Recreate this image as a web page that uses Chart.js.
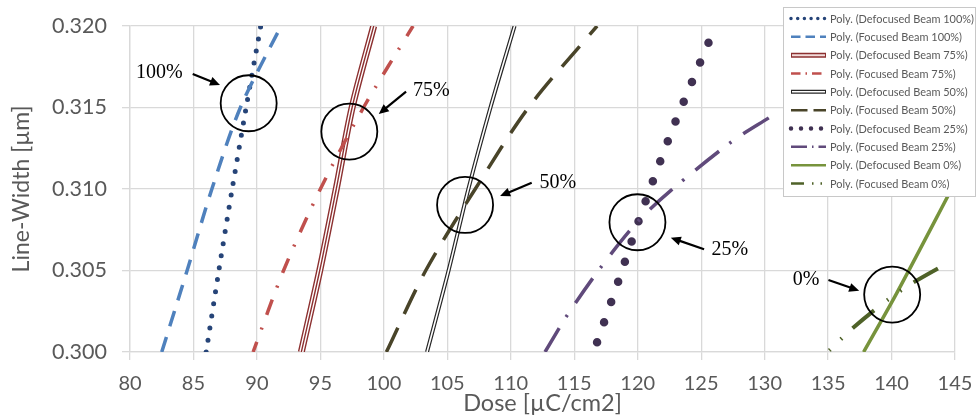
<!DOCTYPE html>
<html>
<head>
<meta charset="utf-8">
<script src="https://cdn.jsdelivr.net/npm/chart.js@4.4.1/dist/chart.umd.min.js"></script>
<style>
  html, body { margin: 0; padding: 0; background: #fff; }
  canvas { display: block; }
</style>
</head>
<body>
<canvas id="chart" width="977" height="420"></canvas>
<script>
// axis ranges
const doseTicks = [80, 85, 90, 95, 100, 105, 110, 115, 120, 125, 130, 135, 140, 145];
const widthTicks = [0.300, 0.305, 0.310, 0.315, 0.320];

// polynomial trendlines (dose in uC/cm2, line-width in um)
const def100Dose = [86.0, 87.0, 88.05, 89.15, 90.3];
const def100Width = [0.300, 0.305, 0.310, 0.315, 0.320];
const foc100Dose = [82.5, 84.5, 86.45, 88.7, 91.9];
const foc100Width = [0.300, 0.305, 0.310, 0.315, 0.320];
const def75Dose = [93.5, 94.95, 96.25, 97.5, 99.2];
const def75Width = [0.300, 0.305, 0.310, 0.315, 0.320];
const foc75Dose = [89.7, 92.1, 95.0, 98.4, 102.3];
const foc75Width = [0.300, 0.305, 0.310, 0.315, 0.320];
const def50Dose = [103.4, 105.1, 106.66, 108.4, 110.3];
const def50Width = [0.300, 0.305, 0.310, 0.315, 0.320];
const foc50Dose = [100.2, 103.3, 107.2, 111.4, 116.8];
const foc50Width = [0.300, 0.305, 0.310, 0.315, 0.320];
const def25Dose = [116.8, 118.5, 120.1, 122.45, 124.4, 125.7];
const def25Width = [0.3006, 0.3044, 0.3081, 0.3131, 0.3168, 0.3192];
const foc25Dose = [112.7, 114.4, 117.1, 120.0, 122.6, 127.4, 130.4];
const foc25Width = [0.300, 0.3022, 0.3052, 0.3080, 0.3099, 0.3129, 0.3144];
const def0Dose = [137.8, 140.4, 145.0];
const def0Width = [0.300, 0.3036, 0.3104];
const foc0Dose = [135.1, 137.0, 139.7, 141.8, 144.75];
const foc0Width = [0.3001, 0.3015, 0.3032, 0.3043, 0.3056];

// circled crossing points with their labels and arrows (data units)
const calloutText = ['100%', '75%', '50%', '25%', '0%'];
const circleDose = [89.35, 97.28, 106.4, 119.98, 140.05];
const circleWidth = [0.31526, 0.31352, 0.30902, 0.30796, 0.30352];
const textDose = [82.31, 103.75, 113.7, 127.26, 133.27];
const textWidth = [0.31718, 0.31607, 0.31045, 0.30636, 0.30452];
const arrowFromDose = [84.94, 101.75, 111.65, 125.23, 135.03];
const arrowFromWidth = [0.31706, 0.31597, 0.31039, 0.3063, 0.30442];
const arrowToDose = [87.09, 99.6, 109.16, 122.61, 137.45];
const arrowToWidth = [0.31638, 0.3146, 0.30957, 0.30701, 0.30376];

const series = [
  { label: 'Poly. (Defocused Beam 100%)', x: def100Dose, y: def100Width, color: '#264478', width: 5, dash: [0, 12.2], cap: 'round',
    legend: { width: 3.5, dash: [0, 6.7], cap: 'round' } },
  { label: 'Poly. (Focused Beam 100%)', x: foc100Dose, y: foc100Width, color: '#4F81BD', width: 3.5, dash: [16, 11],
    legend: { width: 2.5, dash: [9.5, 5] } },
  { label: 'Poly. (Defocused Beam 75%)', x: def75Dose, y: def75Width, color: '#8c3030', width: 7,
    layers: [{ color: '#ffffff', width: 4.2 }, { color: '#8c3030', width: 1.4 }],
    legend: { width: 5, layers: [{ color: '#f2dcdb', width: 2 }] } },
  { label: 'Poly. (Focused Beam 75%)', x: foc75Dose, y: foc75Width, color: '#C0504D', width: 3.5, dash: [16, 13, 2, 13.6], offset: 5,
    legend: { width: 2.5, dash: [9.5, 5, 1.5, 5] } },
  { label: 'Poly. (Defocused Beam 50%)', x: def50Dose, y: def50Width, color: '#262626', width: 4,
    layers: [{ color: '#ffffff', width: 1.6 }],
    legend: { width: 4, layers: [{ color: '#ffffff', width: 1.4 }] } },
  { label: 'Poly. (Focused Beam 50%)', x: foc50Dose, y: foc50Width, color: '#494429', width: 3.5, dash: [27, 15],
    legend: { width: 2.5, dash: [16.5, 6] } },
  { label: 'Poly. (Defocused Beam 25%)', x: def25Dose, y: def25Width, color: '#403152', width: 8.5, dash: [0, 21.3], cap: 'round',
    legend: { width: 4.5, dash: [0, 10], cap: 'round' } },
  { label: 'Poly. (Focused Beam 25%)', x: foc25Dose, y: foc25Width, color: '#604A7B', width: 3.5, dash: [30, 13, 2.5, 14.5], offset: 2.25,
    legend: { width: 2.5, dash: [16, 5, 1.5, 5] } },
  { label: 'Poly. (Defocused Beam 0%)', x: def0Dose, y: def0Width, color: '#77933C', width: 3.5,
    legend: { width: 2.5 } },
  { label: 'Poly. (Focused Beam 0%)', x: foc0Dose, y: foc0Width, color: '#4F6228', width: 4, dash: [1.5, 14.5, 1.5, 14.5, 28, 16.5],
    legend: { width: 2.5, dash: [13, 8, 1.5, 7, 1.5, 8] } }
];

const datasets = [];
series.forEach((s, i) => {
  const pts = s.x.map((v, k) => ({ x: v, y: s.y[k] }));
  const common = { data: pts, showLine: true, pointRadius: 0, pointHoverRadius: 0, tension: 0.3, fill: false, borderJoinStyle: 'round' };
  const base = (series.length - i) * 3;
  datasets.push(Object.assign({}, common, {
    label: s.label, borderColor: s.color, borderWidth: s.width,
    borderDash: s.dash || [], borderDashOffset: s.offset || 0, borderCapStyle: s.cap || 'butt', order: base
  }));
  (s.layers || []).forEach((l, j) => {
    datasets.push(Object.assign({}, common, {
      label: s.label + ' inner', borderColor: l.color, borderWidth: l.width, borderCapStyle: 'butt', order: base - 1 - j
    }));
  });
});

const callouts = {
  id: 'callouts',
  afterDatasetsDraw(chart) {
    const ctx = chart.ctx, xs = chart.scales.x, ys = chart.scales.y;
    ctx.save();
    ctx.strokeStyle = '#000';
    ctx.fillStyle = '#000';
    calloutText.forEach((t, i) => {
      const cx = xs.getPixelForValue(circleDose[i]), cy = ys.getPixelForValue(circleWidth[i]);
      ctx.lineWidth = 1.8;
      ctx.beginPath();
      ctx.arc(cx, cy, 28, 0, Math.PI * 2);
      ctx.stroke();

      const x1 = xs.getPixelForValue(arrowFromDose[i]), y1 = ys.getPixelForValue(arrowFromWidth[i]);
      const x2 = xs.getPixelForValue(arrowToDose[i]), y2 = ys.getPixelForValue(arrowToWidth[i]);
      const a = Math.atan2(y2 - y1, x2 - x1);
      const hl = 10, hw = 4.5;
      ctx.lineWidth = 2.2;
      ctx.beginPath();
      ctx.moveTo(x1, y1);
      ctx.lineTo(x2 - Math.cos(a) * hl * 0.8, y2 - Math.sin(a) * hl * 0.8);
      ctx.stroke();
      ctx.beginPath();
      ctx.moveTo(x2, y2);
      ctx.lineTo(x2 - Math.cos(a) * hl - Math.sin(a) * hw, y2 - Math.sin(a) * hl + Math.cos(a) * hw);
      ctx.lineTo(x2 - Math.cos(a) * hl + Math.sin(a) * hw, y2 - Math.sin(a) * hl - Math.cos(a) * hw);
      ctx.closePath();
      ctx.fill();

      ctx.font = '20px "Liberation Serif", "Times New Roman", serif';
      ctx.textAlign = 'center';
      ctx.textBaseline = 'middle';
      ctx.fillText(t, xs.getPixelForValue(textDose[i]), ys.getPixelForValue(textWidth[i]) + 1);
    });
    ctx.restore();
  }
};

const boxLegend = {
  id: 'boxLegend',
  afterDraw(chart) {
    const ctx = chart.ctx;
    const left = 783, top = 7, w = 193, h = 190;
    ctx.save();
    ctx.fillStyle = '#fff';
    ctx.fillRect(left, top, w, h);
    ctx.strokeStyle = '#c8c8c8';
    ctx.lineWidth = 1;
    ctx.strokeRect(left + 0.5, top + 0.5, w - 1, h - 1);
    // fit the longest entry into the box
    ctx.font = '12px Lato';
    const widest = Math.max(...series.map(s => ctx.measureText(s.label).width));
    const fs = Math.min(12, 12 * 144 / widest);
    series.forEach((s, i) => {
      const y = top + 11.5 + i * 18.33;
      const lg = s.legend || {};
      ctx.beginPath();
      ctx.setLineDash(lg.dash || []);
      ctx.lineCap = lg.cap || 'butt';
      ctx.strokeStyle = s.color;
      ctx.lineWidth = lg.width || s.width;
      ctx.moveTo(791, y);
      ctx.lineTo(826, y);
      ctx.stroke();
      (lg.layers || []).forEach(l => {
        ctx.beginPath();
        ctx.setLineDash([]);
        ctx.lineCap = 'butt';
        ctx.strokeStyle = l.color;
        ctx.lineWidth = l.width;
        ctx.moveTo(792, y);
        ctx.lineTo(825, y);
        ctx.stroke();
      });
      ctx.setLineDash([]);
      ctx.fillStyle = '#595959';
      ctx.font = fs.toFixed(2) + 'px Lato';
      ctx.textAlign = 'left';
      ctx.textBaseline = 'middle';
      ctx.fillText(s.label, 830, y + 0.5);
    });
    ctx.restore();
  }
};

Chart.defaults.font.family = 'Lato';
Chart.defaults.color = '#595959';

new Chart(document.getElementById('chart'), {
  type: 'scatter',
  data: { datasets: datasets },
  options: {
    responsive: false,
    animation: false,
    devicePixelRatio: 1,
    layout: { padding: { top: 26, right: 22, left: 0, bottom: 0 } },
    plugins: { legend: { display: false }, tooltip: { enabled: false } },
    scales: {
      x: {
        type: 'linear',
        min: doseTicks[0],
        max: doseTicks[doseTicks.length - 1],
        afterBuildTicks: s => { s.ticks = doseTicks.map(v => ({ value: v })); },
        afterFit: s => { s.height = 68; s.paddingLeft = 0; s.paddingRight = 0; },
        ticks: { font: { size: 20 }, color: '#595959', padding: 12, maxRotation: 0 },
        grid: { color: '#d9d9d9', lineWidth: 1.3, tickLength: 8 },
        border: { color: '#d9d9d9', width: 1.3 },
        title: { display: true, text: 'Dose [µC/cm2]', font: { size: 23.5 }, color: '#595959', padding: { top: 0, bottom: 2 } }
      },
      y: {
        type: 'linear',
        min: widthTicks[0],
        max: widthTicks[widthTicks.length - 1],
        afterBuildTicks: s => { s.ticks = widthTicks.map(v => ({ value: v })); },
        afterFit: s => { s.width = 130; s.paddingTop = 0; s.paddingBottom = 0; },
        ticks: { font: { size: 21.5 }, color: '#595959', padding: 15, callback: v => v.toFixed(3) },
        grid: { color: '#d9d9d9', lineWidth: 1.3, tickLength: 8 },
        border: { color: '#d9d9d9', width: 1.3 },
        title: { display: true, text: 'Line-Width [µm]', font: { size: 23 }, color: '#595959', padding: { top: 8, bottom: 0 } }
      }
    }
  },
  plugins: [callouts, boxLegend]
});
</script>
</body>
</html>
